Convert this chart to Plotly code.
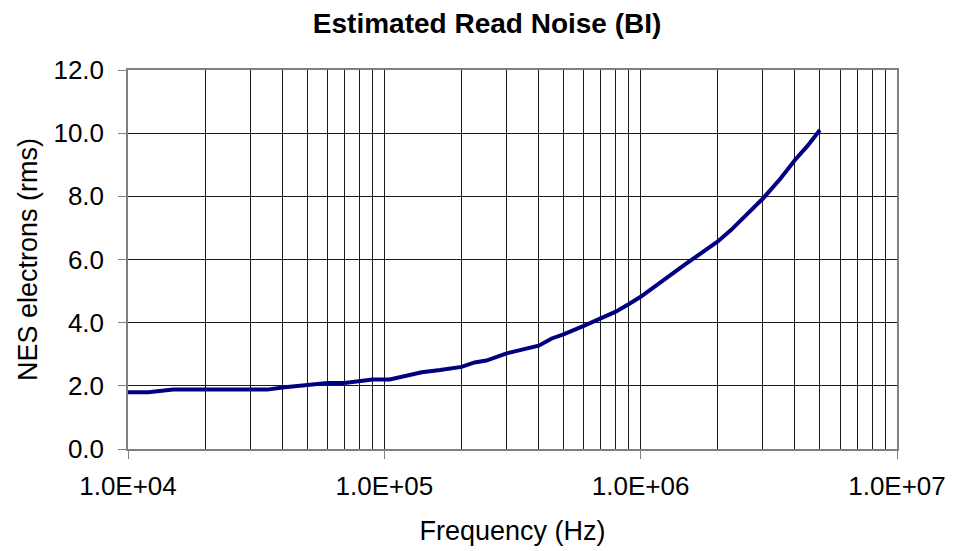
import plotly.graph_objects as go

# Data
frequency_hz = [1.0e4, 1.2e4, 1.5e4, 2.0e4, 2.5e4, 3.0e4, 3.5e4, 4.0e4, 5.0e4, 5.5e4,
                6.0e4, 7.0e4, 8.0e4, 9.0e4, 1.05e5, 1.4e5, 1.65e5, 2.0e5, 2.25e5, 2.5e5,
                3.0e5, 4.0e5, 4.5e5, 5.0e5, 6.0e5, 7.0e5, 8.0e5, 9.0e5, 1.0e6, 1.5e6,
                2.0e6, 2.25e6, 3.0e6, 3.5e6, 4.0e6, 4.5e6, 5.0e6]
noise_e_rms = [1.80, 1.80, 1.88, 1.88, 1.88, 1.88, 1.88, 1.95, 2.03, 2.09,
               2.09, 2.09, 2.15, 2.20, 2.20, 2.43, 2.50, 2.60, 2.74, 2.80,
               3.03, 3.27, 3.50, 3.63, 3.90, 4.14, 4.35, 4.59, 4.82, 5.86,
               6.57, 6.93, 7.93, 8.55, 9.15, 9.62, 10.10]

x_tick_vals = [1e4, 1e5, 1e6, 1e7]
x_tick_text = ["1.0E+04", "1.0E+05", "1.0E+06", "1.0E+07"]

title_text = "Estimated Read Noise (BI)"
x_title = "Frequency (Hz)"
y_title = "NES electrons (rms)"

FONT = "Arial, Liberation Sans, sans-serif"

# The page body has an 8px default margin, so the figure is 8px smaller than the window
W, H = 945, 543

fig = go.Figure()
fig.add_trace(go.Scatter(
    x=frequency_hz, y=noise_e_rms, mode="lines",
    line=dict(color="#000080", width=4),
    showlegend=False, hoverinfo="x+y",
))

fig.update_layout(
    width=W, height=H,
    margin=dict(l=120, r=56, t=62, b=102, autoexpand=False),
    paper_bgcolor="white", plot_bgcolor="white",
    font=dict(family=FONT, color="black", size=26),
    title=dict(text="<b>" + title_text + "</b>", x=0.507, xanchor="center",
               xref="container", y=1 - 15 / H, yanchor="middle", yref="container",
               font=dict(family=FONT, size=28, color="black")),
)

fig.update_xaxes(
    type="log", range=[4, 7],
    tickvals=x_tick_vals, ticktext=x_tick_text,
    ticks="outside", ticklen=8, tickcolor="#808080", tickwidth=1,
    showgrid=True, gridcolor="#1a1a1a", gridwidth=1,
    minor=dict(dtick="D1", showgrid=True, gridcolor="#1a1a1a", gridwidth=1, ticks=""),
    showline=True, linecolor="#808080", linewidth=1.5, mirror=True,
    tickfont=dict(size=26),
    ticklabelstandoff=5,
    title=dict(text=x_title, font=dict(size=27), standoff=21),
    zeroline=False, automargin=False,
)

fig.update_yaxes(
    range=[0, 12], dtick=2, tick0=0, tickformat=".1f",
    ticks="outside", ticklen=8, tickcolor="#808080", tickwidth=1,
    showgrid=True, gridcolor="#1a1a1a", gridwidth=1,
    showline=True, linecolor="#808080", linewidth=1.5, mirror=True,
    tickfont=dict(size=26),
    ticklabelstandoff=9,
    title=dict(text=y_title, font=dict(size=27), standoff=8),
    zeroline=False, automargin=False,
)

fig.write_html("out.html")
